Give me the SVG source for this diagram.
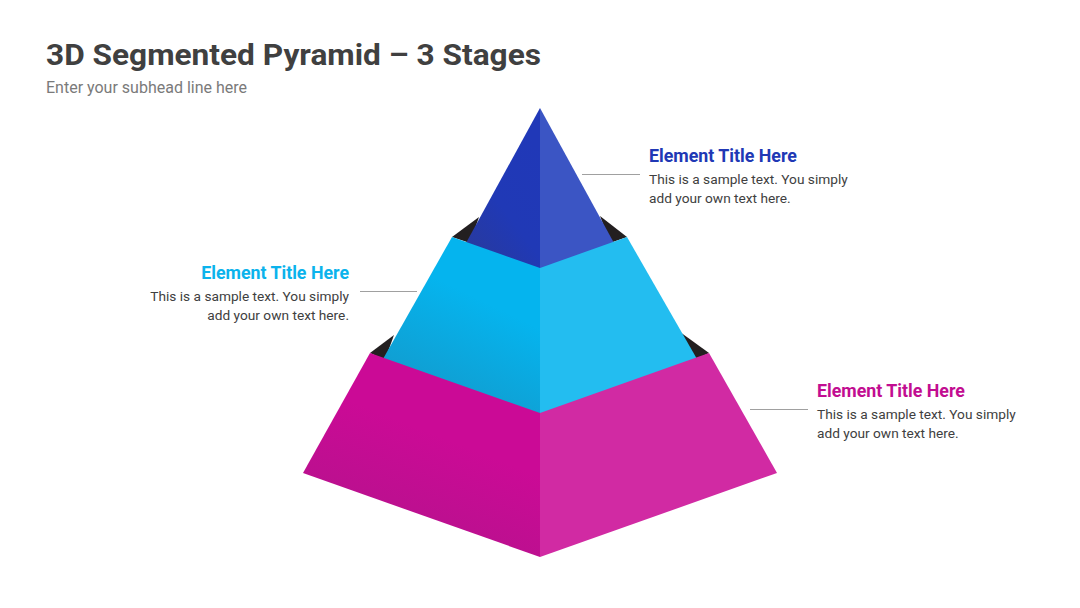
<svg xmlns="http://www.w3.org/2000/svg" width="1080" height="608" viewBox="0 0 1080 608">
  <defs>
    <style>
      .title{font-family:Roboto,"Liberation Sans",sans-serif;font-weight:700;font-size:30px;fill:#404040}
      .sub{font-family:Roboto,"Liberation Sans",sans-serif;font-size:16px;fill:#7a7a7a}
      .et{font-family:Roboto,"Liberation Sans",sans-serif;font-weight:700;font-size:17.8px}
      .body{font-family:Roboto,"Liberation Sans",sans-serif;font-size:13.7px;fill:#404040}
      .lead{stroke:#a0a0a0;stroke-width:1.2;fill:none}
      .dark{fill:#231f20}
    </style>
    <linearGradient id="gBlueL" x1="0" y1="1" x2="0.6" y2="0">
      <stop offset="0" stop-color="#2a3a98"/>
      <stop offset="0.5" stop-color="#2039b6"/>
      <stop offset="1" stop-color="#2038b8"/>
    </linearGradient>
    <linearGradient id="gCyanL" x1="0.2" y1="1" x2="0.5" y2="0.3">
      <stop offset="0" stop-color="#1497c8"/>
      <stop offset="1" stop-color="#05b4ee"/>
    </linearGradient>
    <linearGradient id="gMagL" x1="0.15" y1="1" x2="0.45" y2="0.35">
      <stop offset="0" stop-color="#b0148a"/>
      <stop offset="1" stop-color="#cb0a96"/>
    </linearGradient>
  </defs>

  <g id="header">
    <text class="title" x="46" y="65" textLength="495" lengthAdjust="spacingAndGlyphs">3D Segmented Pyramid – 3 Stages</text>
    <text class="sub" x="46" y="93">Enter your subhead line here</text>
  </g>

  <g id="connectors">
    <line class="lead" x1="582" y1="174.5" x2="640" y2="174.5"/>
    <line class="lead" x1="360" y1="291.5" x2="417" y2="291.5"/>
    <line class="lead" x1="750" y1="409.5" x2="808" y2="409.5"/>
  </g>

  <g id="shadows">
    <polygon class="dark" points="452,237 479,217 470,243"/>
    <polygon class="dark" points="627,237 600,216 610,243"/>
    <polygon class="dark" points="370,353 394,335 385,360"/>
    <polygon class="dark" points="709,353 680,332 695,360"/>
  </g>

  <g id="stage-top">
    <polygon fill="url(#gBlueL)" points="540,108 540,270 466,243"/>
    <polygon fill="#3b55c4" points="540,108 614,243 540,270"/>
  </g>

  <g id="stage-middle">
    <polygon fill="url(#gCyanL)" points="452,237 540,268 540,415 383,359"/>
    <polygon fill="#23bdf0" points="540,268 627,237 697,359 540,415"/>
  </g>

  <g id="stage-bottom">
    <polygon fill="url(#gMagL)" points="370,353 540,413 540,557 303,473"/>
    <polygon fill="#d12aa3" points="540,413 709,353 777,473 540,557"/>
  </g>

  <g id="label-top">
    <text class="et" x="649" y="162" fill="#2038b5">Element Title Here</text>
    <text class="body" x="649" y="184">This is a sample text. You simply</text>
    <text class="body" x="649" y="203">add your own text here.</text>
  </g>

  <g id="label-middle" text-anchor="end">
    <text class="et" x="349" y="279" fill="#0bb3ec">Element Title Here</text>
    <text class="body" x="349" y="301">This is a sample text. You simply</text>
    <text class="body" x="349" y="320">add your own text here.</text>
  </g>

  <g id="label-bottom">
    <text class="et" x="817" y="397" fill="#c20d91">Element Title Here</text>
    <text class="body" x="817" y="419">This is a sample text. You simply</text>
    <text class="body" x="817" y="438">add your own text here.</text>
  </g>
</svg>
